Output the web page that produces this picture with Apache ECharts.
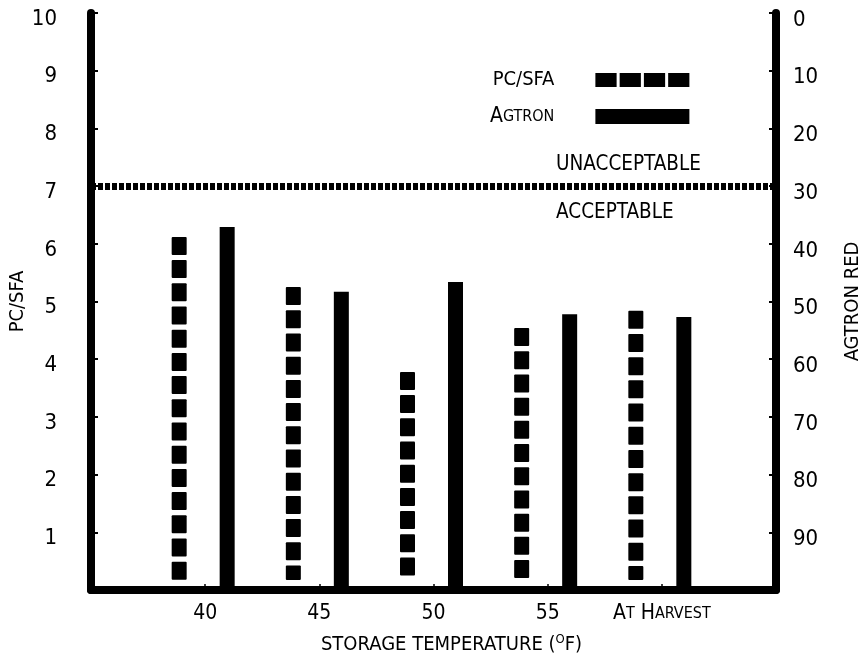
<!DOCTYPE html>
<html>
<head>
<meta charset="utf-8">
<script src="https://cdn.jsdelivr.net/npm/echarts@6/dist/echarts.min.js"></script>
<style>
  html, body { margin: 0; padding: 0; background: #fff; }
  #chart { width: 864px; height: 663px; }
</style>
</head>
<body>
<div id="chart"></div>
<script>
// ---- data ----
const categories = ['40', '45', '50', '55', 'At Harvest'];
const pcSfa = [6.12, 5.25, 3.78, 4.54, 4.84];      // left axis (PC/SFA)
const agtron = [37.1, 48.3, 46.6, 52.2, 52.7];     // right axis (Agtron red, inverted)
const threshold = 7;                               // acceptable / unacceptable
const leftRange = [0, 10];
const rightRange = [0, 100];

// ---- styles ----
const FONT = "'Liberation Sans Narrow','DejaVu Sans Condensed','Roboto Condensed','Liberation Sans',sans-serif";
const INK = '#000';

const chart = echarts.init(document.getElementById('chart'), null, { renderer: 'canvas' });

const pcData = pcSfa.map((v, i) => [i + 1, v]);
const agData = agtron.map((v, i) => [i + 1, v]);

const option = {
  backgroundColor: '#fff',
  animation: false,
  textStyle: { fontFamily: FONT, color: INK },
  grid: { left: 91, right: 88, top: 13, bottom: 73, containLabel: false, outerBoundsMode: 'none' },
  legend: {
    orient: 'vertical',
    left: 485,
    top: 65,
    align: 'right',
    itemWidth: 94,
    itemHeight: 15,
    itemGap: 16,
    selectedMode: false,
    data: [
      { name: 'PC/SFA', icon: 'path://M0,0h21v14h-21zM24,0h21v14h-21zM48,0h21v14h-21zM72,0h21v14h-21z' },
      { name: 'Agtron', icon: 'rect' }
    ],
    formatter: n => n === 'Agtron' ? '{b|A}{s|GTRON}' : '{n|PC/SFA}',
    textStyle: {
      color: INK, fontFamily: FONT, fontSize: 20, padding: [0, 36, 0, 0],
      rich: {
        n: { fontSize: 20, fontFamily: FONT, color: INK },
        b: { fontSize: 21, fontFamily: FONT, color: INK },
        s: { fontSize: 16, fontFamily: FONT, color: INK }
      }
    }
  },
  xAxis: {
    type: 'value',
    min: 0, max: 6, interval: 1,
    splitLine: { show: false },
    axisLine: { show: true, lineStyle: { color: INK, width: 8 } },
    axisTick: { show: true, inside: true, length: 6, lineStyle: { color: INK, width: 1.5 } },
    axisLabel: {
      margin: 13,
      fontSize: 21,
      color: INK,
      fontFamily: FONT,
      formatter: v => {
        const c = categories[v - 1];
        if (!c) return '';
        if (c === 'At Harvest') return '{b|A}{s|T} {b|H}{s|ARVEST}';
        return c;
      },
      rich: {
        b: { fontSize: 21, fontFamily: FONT, color: INK },
        s: { fontSize: 16, fontFamily: FONT, color: INK }
      }
    },
    name: 'STORAGE TEMPERATURE ({sup|O}F)',
    nameLocation: 'middle',
    nameGap: 43,
    nameTextStyle: {
      fontSize: 20, color: INK, fontFamily: FONT, padding: [0, 0, 0, 36],
      rich: { sup: { fontSize: 13, fontFamily: FONT, color: INK, padding: [0, 0, 10, 0] } }
    }
  },
  yAxis: [
    {
      type: 'value',
      position: 'left',
      min: leftRange[0], max: leftRange[1], interval: 1,
      splitLine: { show: false },
      axisLine: { show: true, lineStyle: { color: INK, width: 8 } },
      axisTick: { show: true, inside: true, length: 7, lineStyle: { color: INK, width: 2 } },
      axisLabel: {
        margin: 34, fontSize: 22, color: INK, fontFamily: FONT,
        verticalAlign: 'top', lineHeight: 12,
        formatter: v => v === 0 ? '' : String(v)
      },
      name: 'PC/SFA',
      nameLocation: 'middle',
      nameRotate: 90,
      nameGap: 63,
      nameMoveOverlap: false,
      nameTextStyle: { fontSize: 20, color: INK, fontFamily: FONT }
    },
    {
      type: 'value',
      position: 'right',
      inverse: true,
      min: rightRange[0], max: rightRange[1], interval: 10,
      splitLine: { show: false },
      axisLine: { show: true, lineStyle: { color: INK, width: 8 } },
      axisTick: { show: true, inside: true, length: 7, lineStyle: { color: INK, width: 2 } },
      axisLabel: {
        margin: 17, fontSize: 22, color: INK, fontFamily: FONT,
        verticalAlign: 'top', lineHeight: 14,
        formatter: v => v === 100 ? '' : String(v)
      },
      name: 'AGTRON RED',
      nameLocation: 'middle',
      nameRotate: 90,
      nameGap: 67,
      nameMoveOverlap: false,
      nameTextStyle: { fontSize: 20, color: INK, fontFamily: FONT }
    }
  ],
  graphic: [
    { type: 'text', left: 556, top: 154, style: { text: 'UNACCEPTABLE', fontSize: 20.5, fontFamily: FONT, fill: INK } },
    { type: 'text', left: 556, top: 202, style: { text: 'ACCEPTABLE', fontSize: 20.5, fontFamily: FONT, fill: INK } }
  ],
  series: [
    {
      name: 'PC/SFA',
      type: 'custom',
      xAxisIndex: 0,
      yAxisIndex: 0,
      itemStyle: { color: INK },
      data: pcData,
      renderItem: (params, api) => {
        const top = api.coord([api.value(0), api.value(1)]);
        const base = api.coord([api.value(0), leftRange[0]]);
        const cx = top[0] - 26;
        const w = 15, h = 18, period = 23.2;
        const stop = base[1] - 10;
        const children = [];
        for (let y = top[1]; y < stop - 3; y += period) {
          const hh = Math.min(h, stop - y);
          children.push({
            type: 'rect',
            shape: { x: cx - w / 2, y: y, width: w, height: hh, r: 1 },
            style: { fill: INK }
          });
        }
        return { type: 'group', children };
      },
      markLine: {
        silent: true,
        symbol: 'none',
        label: { show: false },
        lineStyle: { color: INK, width: 7, type: [5, 2] },
        data: [{ yAxis: threshold }]
      }
    },
    {
      name: 'Agtron',
      type: 'custom',
      xAxisIndex: 0,
      yAxisIndex: 1,
      itemStyle: { color: INK },
      data: agData,
      renderItem: (params, api) => {
        const top = api.coord([api.value(0), api.value(1)]);
        const base = api.coord([api.value(0), rightRange[1]]);
        const cx = top[0] + 22;
        const w = 15;
        return {
          type: 'rect',
          shape: { x: cx - w / 2, y: top[1], width: w, height: base[1] - top[1] },
          style: { fill: INK }
        };
      }
    }
  ]
};

chart.setOption(option);
</script>
</body>
</html>
